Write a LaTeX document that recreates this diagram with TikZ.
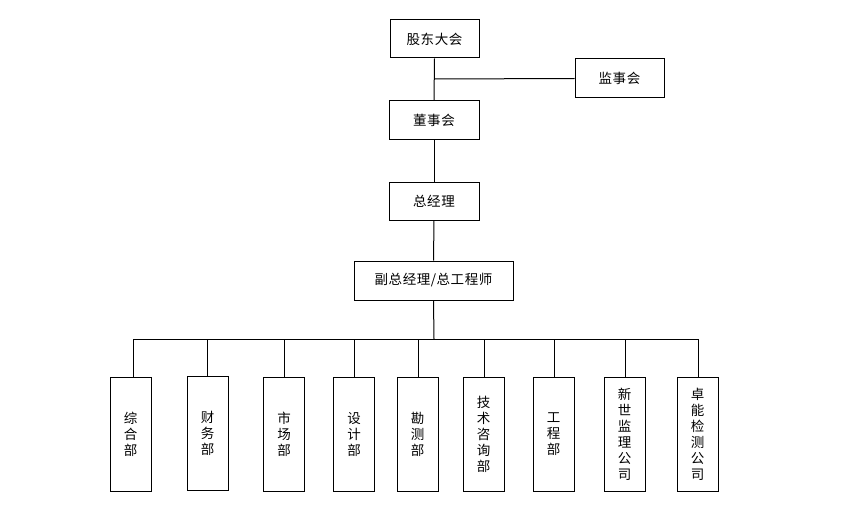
\documentclass[tikz,border=0pt]{standalone}
\usepackage{fontspec}
\newfontfamily\cjk{Noto Sans CJK SC}[LetterSpace=4]
\newfontfamily\cjkv{Noto Sans CJK SC}
\begin{document}
\begin{tikzpicture}[x=1pt,y=-1pt,
  box/.style={draw,line width=1pt,inner sep=0pt,font=\cjk\fontsize{13.5}{16}\selectfont},
  vbox/.style={draw,line width=1pt,inner sep=0pt,font=\cjkv\fontsize{13.5}{16}\selectfont,minimum width=41pt,minimum height=114pt,align=center},
  conn/.style={line width=1pt}]
\useasboundingbox (0,0) rectangle (855,527);
\node[box,minimum width=89pt,minimum height=38pt] (gd) at (434.5,39) {股东大会};
\node[box,minimum width=89pt,minimum height=39pt] (jsh) at (619.5,78.5) {监事会};
\node[box,minimum width=90pt,minimum height=38pt] (dsh) at (434,120) {董事会};
\node[box,minimum width=90pt,minimum height=38pt] (zjl) at (434,201) {总经理};
\node[box,minimum width=159pt,minimum height=39pt] (fz) at (433.5,280.5) {副总经理/总工程师};
\node[vbox] (b1) at (130.5,434) {综\\合\\部};
\node[vbox] (b2) at (207.5,433) {财\\务\\部};
\node[vbox] (b3) at (284,434) {市\\场\\部};
\node[vbox] (b4) at (354,434) {设\\计\\部};
\node[vbox] (b5) at (417.5,434) {勘\\测\\部};
\node[vbox] (b6) at (483.5,434) {技\\术\\咨\\询\\部};
\node[vbox] (b7) at (553.5,434) {工\\程\\部};
\node[vbox] (b8) at (624.5,434) {新\\世\\监\\理\\公\\司};
\node[vbox] (b9) at (697.5,434) {卓\\能\\检\\测\\公\\司};
\coordinate (j) at (434,79);
\coordinate (busL) at (133,339);
\coordinate (busR) at (698,339);
\coordinate (busM) at (434,339);
\draw[conn] (gd.south) -- (dsh.north);
\draw[conn] (j) -- (jsh.west);
\draw[conn] (dsh.south) -- (zjl.north);
\draw[conn] (zjl.south) -- (fz.north);
\draw[conn] (fz.south) -- (busM);
\draw[conn] (busL) -- (busR);
\foreach \n/\x in {b1/133,b2/207,b3/284,b4/354,b5/418,b6/484,b7/554,b8/625,b9/698}{
  \draw[conn] (\x,339) -- (\x,0 |- \n.north);
}
\end{tikzpicture}
\end{document}
